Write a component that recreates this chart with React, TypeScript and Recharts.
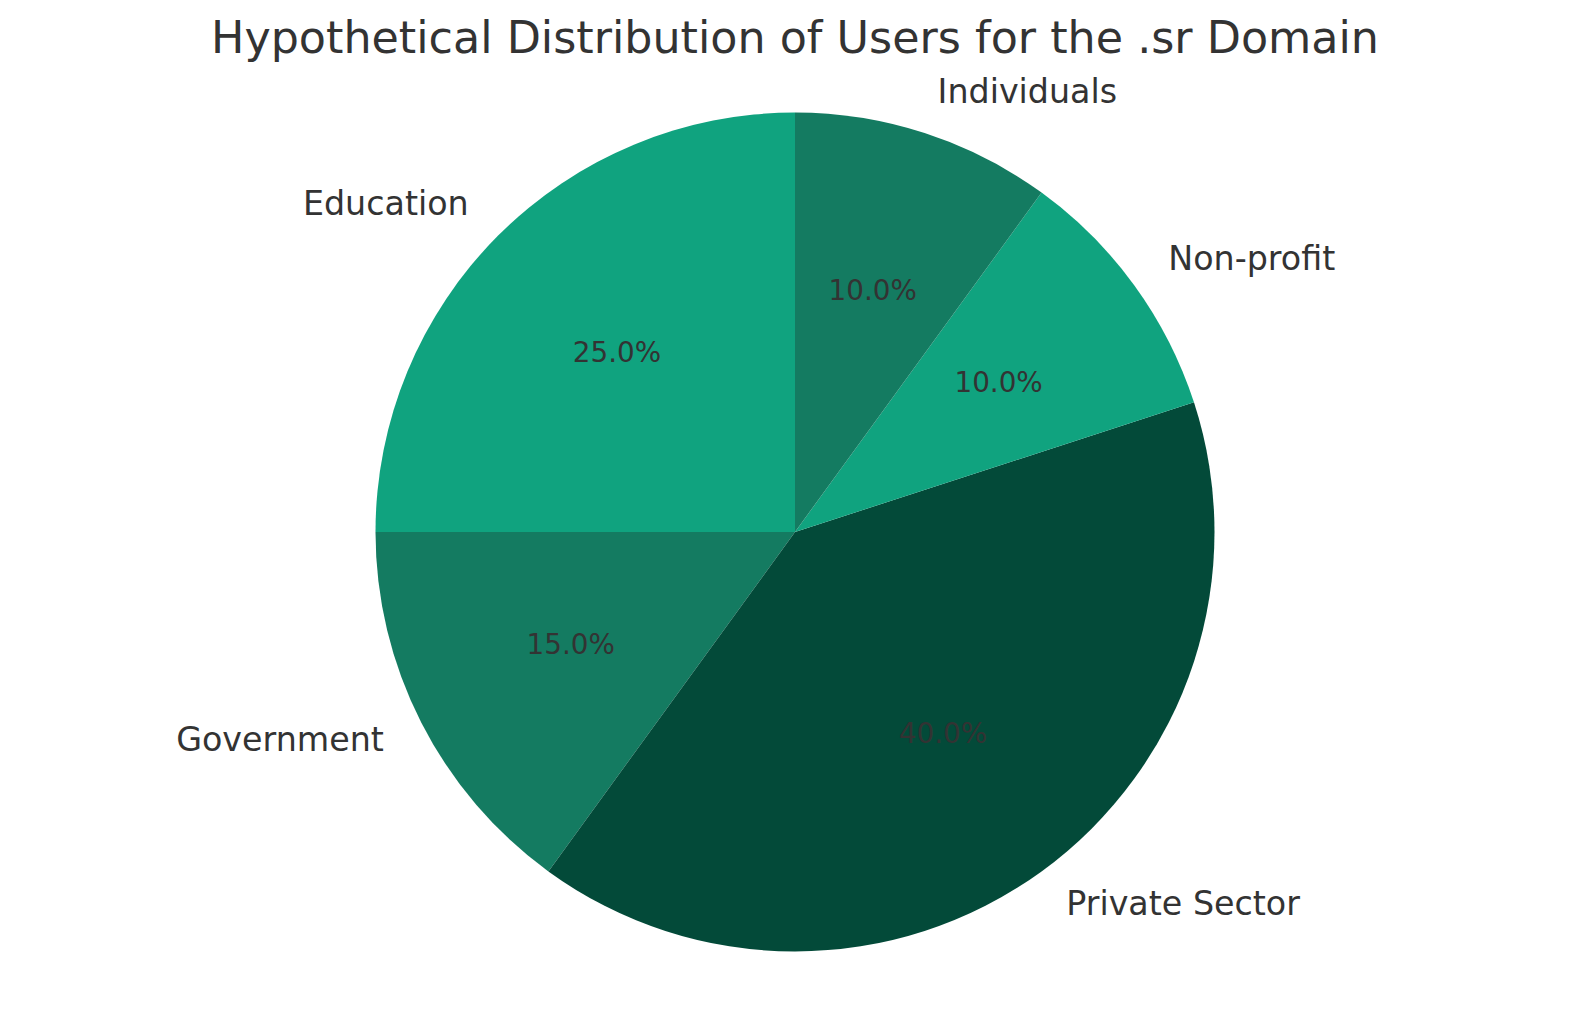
import React from 'react';
import { PieChart, Pie, Cell } from 'recharts';

const categories = ['Education', 'Government', 'Private Sector', 'Non-profit', 'Individuals'];
const shares = [25, 15, 40, 10, 10];
const colors = ['#10a37f', '#147b61', '#034a39', '#10a37f', '#147b61'];

const data = categories.map((name, i) => ({ name, value: shares[i] }));

const FONT = '"DejaVu Sans", sans-serif';
const RADIAN = Math.PI / 180;

const renderLabel = (props: any) => {
  const { cx, cy, midAngle, outerRadius, percent, name } = props;
  const cos = Math.cos(-midAngle * RADIAN);
  const sin = Math.sin(-midAngle * RADIAN);
  const lx = cx + outerRadius * 1.1 * cos;
  const ly = cy + outerRadius * 1.1 * sin - 2;
  const px = cx + outerRadius * 0.6 * cos;
  const py = cy + outerRadius * 0.6 * sin - 2;
  return (
    <g>
      <text
        x={lx}
        y={ly}
        fill="#333333"
        fontSize={33.3}
        fontFamily={FONT}
        textAnchor={cos >= 0 ? 'start' : 'end'}
        dominantBaseline="central"
      >
        {name}
      </text>
      <text
        x={px}
        y={py}
        fill="#333333"
        fontSize={27.8}
        fontFamily={FONT}
        textAnchor="middle"
        dominantBaseline="central"
      >
        {(percent * 100).toFixed(1)}%
      </text>
    </g>
  );
};

export default function App() {
  return (
    <div style={{ position: 'absolute', left: 0, top: 0, width: 1589, height: 1014, background: '#fff' }}>
      <PieChart width={1589} height={1014} margin={{ top: 0, right: 0, bottom: 0, left: 0 }}>
        <Pie
          data={data}
          dataKey="value"
          nameKey="name"
          cx={795}
          cy={532}
          outerRadius={419.5}
          startAngle={90}
          endAngle={450}
          stroke="none"
          label={renderLabel}
          labelLine={false}
          isAnimationActive={false}
        >
          {data.map((d, i) => (
            <Cell key={d.name} fill={colors[i]} />
          ))}
        </Pie>
      </PieChart>
      <svg width={1589} height={80} style={{ position: 'absolute', left: 0, top: 0 }}>
        <text x={795} y={53} textAnchor="middle" fill="#333333" fontSize={44.4} fontFamily={FONT}>
          Hypothetical Distribution of Users for the .sr Domain
        </text>
      </svg>
    </div>
  );
}
